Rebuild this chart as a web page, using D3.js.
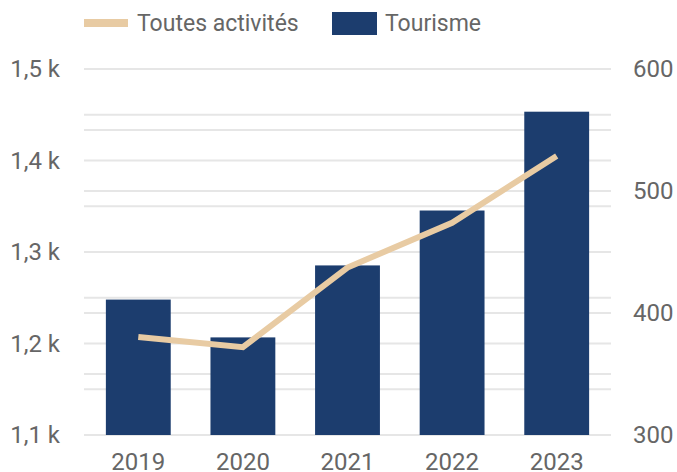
<!DOCTYPE html>
<html>
<head>
<meta charset="utf-8">
<script src="https://cdn.jsdelivr.net/npm/d3@7"></script>
<style>
  body { margin: 0; background: #fff; }
  text { font-family: Roboto, "Noto Sans", sans-serif; fill: #666; }
</style>
</head>
<body>
<div id="chart"></div>
<script>
// data
const years = ["2019", "2020", "2021", "2022", "2023"];
const toutesActivites = [1207, 1196, 1283, 1332, 1405];   // left axis
const tourisme = [411, 380, 439, 484, 565];               // right axis
const leftTicks = [1100, 1200, 1300, 1400, 1500];
const leftGrid = [1100, 1150, 1200, 1250, 1300, 1350, 1400, 1450, 1500];
const rightTicks = [300, 400, 500, 600];
const rightGrid = [300, 350, 400, 450, 500, 550, 600];

const width = 677, height = 472;
const plot = { left: 84, right: 611, top: 69, bottom: 435 };

const svg = d3.select("#chart").append("svg")
    .attr("width", width)
    .attr("height", height);

const x = d3.scaleBand()
    .domain(years)
    .range([plot.left + 2, plot.right - 2])
    .paddingInner(0.38)
    .paddingOuter(0.19);

const yLeft = d3.scaleLinear().domain([1100, 1500]).range([plot.bottom, plot.top]);
const yRight = d3.scaleLinear().domain([300, 600]).range([plot.bottom, plot.top]);

// gridlines for both axes
const grid = svg.append("g");
grid.selectAll("line.gl")
    .data(leftGrid)
    .enter().append("line")
    .attr("x1", plot.left).attr("x2", plot.right)
    .attr("y1", d => yLeft(d)).attr("y2", d => yLeft(d))
    .attr("stroke", "#e6e6e6").attr("stroke-width", 2);
grid.selectAll("line.gr")
    .data(rightGrid)
    .enter().append("line")
    .attr("x1", plot.left).attr("x2", plot.right)
    .attr("y1", d => yRight(d)).attr("y2", d => yRight(d))
    .attr("stroke", "#e6e6e6").attr("stroke-width", 2);

// bars (Tourisme)
svg.append("g")
    .selectAll("rect")
    .data(years)
    .enter().append("rect")
    .attr("x", d => x(d))
    .attr("width", x.bandwidth())
    .attr("y", (d, i) => yRight(tourisme[i]))
    .attr("height", (d, i) => plot.bottom - yRight(tourisme[i]))
    .attr("fill", "#1c3d6e");

// line (Toutes activités)
svg.append("path")
    .datum(years)
    .attr("fill", "none")
    .attr("stroke", "#e8cba3")
    .attr("stroke-width", 6)
    .attr("d", d3.line()
        .x(d => x(d) + x.bandwidth() / 2)
        .y((d, i) => yLeft(toutesActivites[i])));

// left axis labels
const fmtK = d => d3.format(".1f")(d / 1000).replace(".", ",") + " k";
svg.append("g")
    .selectAll("text")
    .data(leftTicks)
    .enter().append("text")
    .attr("x", 60)
    .attr("y", d => yLeft(d))
    .attr("dy", "0.35em")
    .style("text-anchor", "end")
    .style("font-size", "24px")
    .text(fmtK);

// right axis labels
svg.append("g")
    .selectAll("text")
    .data(rightTicks)
    .enter().append("text")
    .attr("x", 633)
    .attr("y", d => yRight(d))
    .attr("dy", "0.35em")
    .style("text-anchor", "start")
    .style("font-size", "24px")
    .text(d => d);

// year labels
svg.append("g")
    .selectAll("text")
    .data(years)
    .enter().append("text")
    .attr("x", d => x(d) + x.bandwidth() / 2)
    .attr("y", 470)
    .style("text-anchor", "middle")
    .style("font-size", "24px")
    .text(d => d);

// legend
const legend = svg.append("g");
legend.append("line")
    .attr("x1", 84).attr("x2", 128)
    .attr("y1", 23).attr("y2", 23)
    .attr("stroke", "#e8cba3")
    .attr("stroke-width", 8);
legend.append("text")
    .attr("x", 137).attr("y", 31)
    .style("font-size", "23px")
    .text("Toutes activités");
legend.append("rect")
    .attr("x", 332).attr("y", 12)
    .attr("width", 45).attr("height", 23)
    .attr("fill", "#1c3d6e");
legend.append("text")
    .attr("x", 385).attr("y", 31)
    .style("font-size", "23px")
    .text("Tourisme");
</script>
</body>
</html>
